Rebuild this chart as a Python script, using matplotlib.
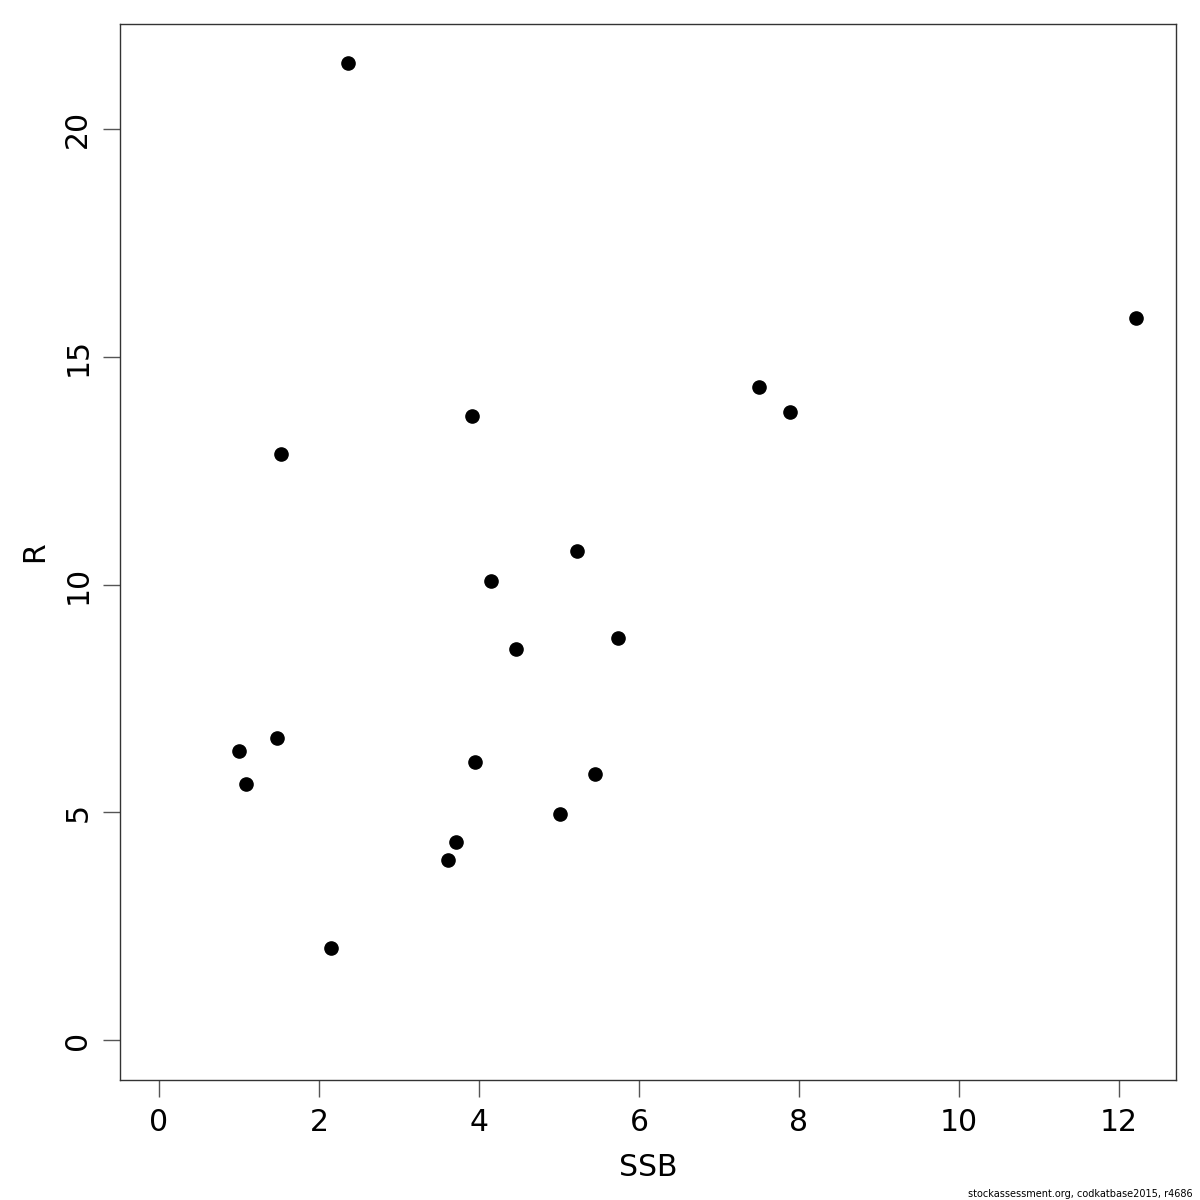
import matplotlib
matplotlib.use("Agg")
import matplotlib.pyplot as plt

ssb = [2.36, 12.21, 7.50, 7.89, 3.91, 1.52, 5.22, 4.15, 5.74, 4.46,
       1.48, 1.00, 3.95, 1.09, 5.45, 5.01, 3.71, 3.61, 2.15]
rec = [21.45, 15.85, 14.33, 13.78, 13.71, 12.87, 10.74, 10.08, 8.83, 8.58,
       6.63, 6.35, 6.11, 5.62, 5.84, 4.97, 4.35, 3.95, 2.02]
xticks = [0, 2, 4, 6, 8, 10, 12]
yticks = [0, 5, 10, 15, 20]

fig = plt.figure(figsize=(12, 12), dpi=100)
ax = fig.add_axes([0.1, 0.1, 0.88, 0.88])
ax.plot(ssb, rec, 'o', color='black', markersize=9.5, linestyle='none')
ax.set_xlim(-0.4875, 12.7125)
ax.set_ylim(-0.878, 22.305)
ax.set_xticks(xticks)
ax.set_yticks(yticks)
ax.set_xticklabels([str(t) for t in xticks], fontsize=21.5)
ax.set_yticklabels([str(t) for t in yticks], fontsize=21.5, rotation=90, va='center')
ax.tick_params(length=12, width=1, color='#555555', pad=8)
for s in ax.spines.values():
    s.set_color('#333333')
    s.set_linewidth(1)
ax.set_xlabel('SSB', fontsize=21.5, labelpad=12)
ax.set_ylabel('R', fontsize=21.5, labelpad=10)
fig.text(0.994, 0.001, 'stockassessment.org, codkatbase2015, r4686', fontsize=7,
         ha='right', va='bottom')
fig.savefig('out.png', dpi=100)
